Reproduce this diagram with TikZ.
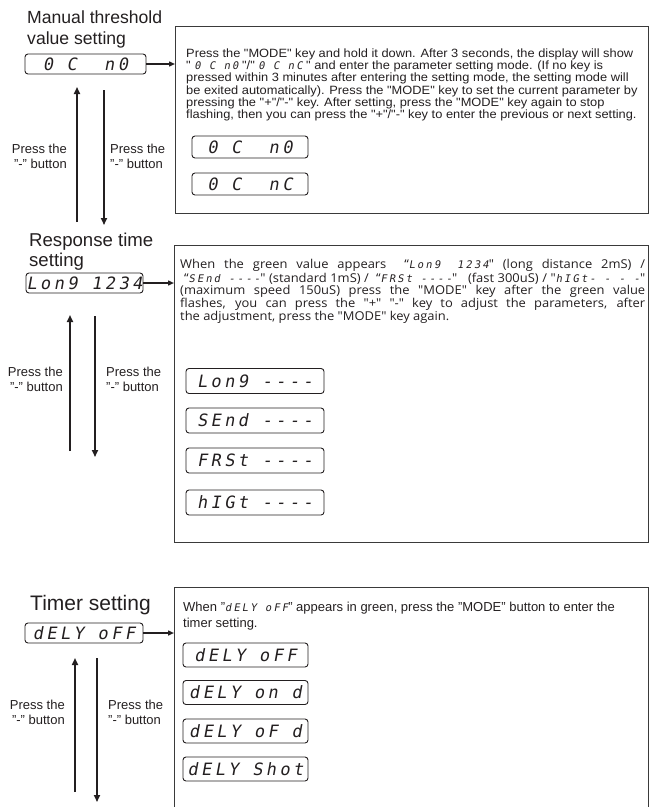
\documentclass[tikz,border=0pt]{standalone}
\usepackage{fontspec}
\setmainfont{Liberation Sans}
\newfontfamily\bodyf[FakeStretch=1.07]{Liberation Sans}
\newfontfamily\hum[FakeStretch=1.06]{Open Sans}
\newfontfamily\seg[FakeSlant=0.18,LetterSpace=20]{DejaVu Sans Mono}
\usetikzlibrary{arrows.meta}
\definecolor{ink}{HTML}{231F20}
\definecolor{frame}{HTML}{3A3A3A}
\newcommand\sg[1]{\hbox{\seg\fontsize{10.5}{10.5}\selectfont #1}}
\newcommand\jl[1]{\hbox to 465pt{#1}}
\tikzset{
  ttl/.style={anchor=base west, inner sep=0, text=ink},
  panel/.style={draw=frame, line width=1.2pt, anchor=north west, inner sep=0},
  disp/.style={draw=ink, line width=0.9pt, rounded corners=3pt, inner sep=0,
               font=\seg\fontsize{17}{17}\selectfont, text=ink},
  bodya/.style={inner sep=0, align=left, anchor=north west, text=ink,
               font=\bodyf\fontsize{12}{11.15}\selectfont},
  bodyb/.style={inner sep=0, align=left, anchor=north west, text=ink,
               font=\hum\fontsize{12.2}{11.15}\selectfont},
  bodyc/.style={inner sep=0, align=left, anchor=north west, text=ink,
               font=\fontsize{13}{16}\selectfont},
  lbl/.style={inner sep=0, text=ink, font=\fontsize{13}{15}\selectfont},
  vflow/.style={draw=ink, line width=1.6pt, -{Triangle[length=7pt,width=6pt]}},
  hflow/.style={draw=ink, line width=1.4pt, -{Triangle[length=6pt,width=5pt]}},
}
\begin{document}
\begin{tikzpicture}[x=1pt,y=-1pt]
\useasboundingbox (0,0) rectangle (652,807);

% ---------- section 1 ----------
\node[ttl, font=\fontsize{17.6}{21}\selectfont] (h1a) at (27,23) {Manual threshold};
\node[ttl, font=\fontsize{17.6}{21}\selectfont] (h1b) at (27,44) {value setting};
\node[disp, minimum width=121pt, minimum height=20pt] (d1) at (85.5,64) {0 C~~n0};
\node[panel, minimum width=473pt, minimum height=187pt] (p1) at (175,26) {};
\draw[hflow] (d1.east) -- (d1.east -| p1.west);
\node[bodya] (t1) at (186,48.6) {%
Press the "MODE" key and hold it down. After 3 seconds, the display will show\\
" \sg{0 C~n0} "/" \sg{0 C~nC} " and enter the parameter setting mode. (If no key is\\
pressed within 3 minutes after entering the setting mode, the setting mode will\\
be exited automatically). Press the "MODE" key to set the current parameter by\\
pressing the "+"/"-" key. After setting, press the "MODE" key again to stop\\
flashing, then you can press the "+"/"-" key to enter the previous or next setting.};
\node[disp, minimum width=116pt, minimum height=22pt] (d1a) at (250,147) {0 C~~n0};
\node[disp, minimum width=116pt, minimum height=22pt] (d1b) at (250,184) {0 C~~nC};

\coordinate (u1s) at (77,222);
\coordinate (u1e) at (77,87);
\coordinate (w1s) at (104,90);
\coordinate (w1e) at (104,225);
\draw[vflow] (u1s) -- (u1e);
\draw[vflow] (w1s) -- (w1e);
\node[lbl, align=right, anchor=east] (l1l) at (67,156) {Press the\\"-" button};
\node[lbl, align=left, anchor=west] (l1r) at (110,156) {Press the\\"-" button};

% ---------- section 2 ----------
\node[ttl, font=\fontsize{18.6}{21}\selectfont] (h2a) at (29,246) {Response time};
\node[ttl, font=\fontsize{18.6}{21}\selectfont] (h2b) at (29,266) {setting};
\node[disp, minimum width=117pt, minimum height=20pt] (d2) at (84.5,283) {Lon9 1234};
\node[panel, minimum width=474pt, minimum height=297pt] (p2) at (174,245) {};
\draw[hflow] (d2.east) -- (d2.east -| p2.west);
\node[bodyb] (t2) at (180,259.5) {%
\jl{When the green value appears \ “\sg{Lon9~~1234}" (long distance 2mS) /}\\
\jl{\hspace{4pt}“\sg{SEnd ----}" (standard 1mS) / \ “\sg{FRSt ----}" \ \ (fast 300uS) / "\sg{hIGt- - - -}"}\\
\jl{(maximum speed 150uS) press the "MODE" key after the green value}\\
\jl{flashes, you can press the "+" "-" key to adjust the parameters, after}\\
the adjustment, press the "MODE" key again.};
\node[disp, minimum width=138pt, minimum height=25pt] (d2a) at (255,381) {Lon9 ----};
\node[disp, minimum width=138pt, minimum height=25pt] (d2b) at (255,420.5) {SEnd ----};
\node[disp, minimum width=138pt, minimum height=25pt] (d2c) at (255,460.5) {FRSt ----};
\node[disp, minimum width=138pt, minimum height=25pt] (d2d) at (255,502.5) {hIGt ----};

\coordinate (u2s) at (70,451);
\coordinate (u2e) at (70,315);
\coordinate (w2s) at (95,316);
\coordinate (w2e) at (95,457);
\draw[vflow] (u2s) -- (u2e);
\draw[vflow] (w2s) -- (w2e);
\node[lbl, align=right, anchor=east] (l2l) at (63,379.5) {Press the\\"-" button};
\node[lbl, align=left, anchor=west] (l2r) at (106,379.5) {Press the\\"-" button};

% ---------- section 3 ----------
\node[ttl, font=\fontsize{21}{24}\selectfont] (h3) at (30,610) {Timer setting};
\node[disp, minimum width=118pt, minimum height=20pt] (d3) at (84,633) {dELY oFF};
\node[panel, minimum width=474pt, minimum height=235pt] (p3) at (174,587) {};
\draw[hflow] (d3.east) -- (d3.east -| p3.west);
\node[bodyc] (t3) at (183,602) {%
When "\sg{dELY oFF}" appears in green, press the "MODE" button to enter the\\
timer setting.};
\node[disp, minimum width=125pt, minimum height=24pt] (d3a) at (245.5,655) {dELY oFF};
\node[disp, minimum width=125pt, minimum height=24pt] (d3b) at (245.5,692.5) {dELY on d};
\node[disp, minimum width=125pt, minimum height=24pt] (d3c) at (245.5,731) {dELY oF d};
\node[disp, minimum width=125pt, minimum height=24pt] (d3d) at (245.5,769) {dELY Shot};

\coordinate (u3s) at (75,792);
\coordinate (u3e) at (75,658);
\coordinate (w3s) at (97,658);
\coordinate (w3e) at (97,802);
\draw[vflow] (u3s) -- (u3e);
\draw[vflow] (w3s) -- (w3e);
\node[lbl, align=right, anchor=east] (l3l) at (65,712.5) {Press the\\"-" button};
\node[lbl, align=left, anchor=west] (l3r) at (108,712.5) {Press the\\"-" button};
\end{tikzpicture}
\end{document}
